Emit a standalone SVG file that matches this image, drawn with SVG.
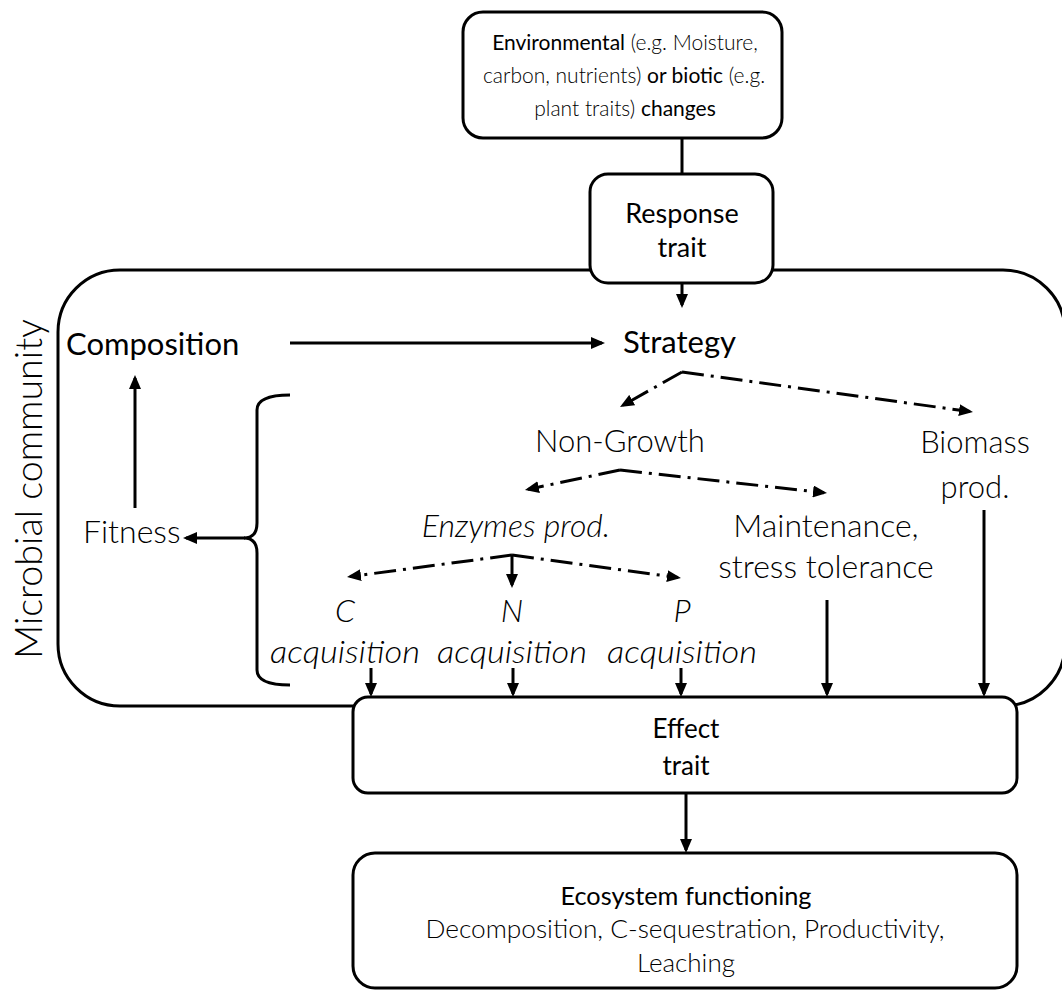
<svg xmlns="http://www.w3.org/2000/svg" width="1062" height="1000" viewBox="0 0 1062 1000">
  <style>
    text { font-family: "Lato", "Open Sans", "Liberation Sans", sans-serif; fill: #000; }
    .lt { font-weight: 300; }
    .rg { font-weight: 400; }
    .it { font-weight: 300; font-style: italic; }
    .box { fill: #fff; stroke: #000; stroke-width: 3; }
    .frame { fill: none; stroke: #000; stroke-width: 3; }
    .ln { fill: none; stroke: #000; stroke-width: 3; }
    .dd { fill: none; stroke: #000; stroke-width: 3; stroke-dasharray: 22 7 3 7; }
  </style>
  <defs>
    <marker id="ah" viewBox="0 0 14 12" refX="11" refY="6" markerWidth="14" markerHeight="12" markerUnits="userSpaceOnUse" orient="auto">
      <path d="M0,0 L14,6 L0,12 z" fill="#000"/>
    </marker>
  </defs>

  <!-- Microbial community frame -->
  <g id="microbial-community">
    <rect class="frame" x="58" y="270" width="1007" height="436" rx="62" ry="62"/>
    <text class="lt" font-size="38" text-anchor="middle" transform="translate(42,489) rotate(-90)" textLength="340" lengthAdjust="spacingAndGlyphs">Microbial community</text>
  </g>

  <g id="env-changes">
    <rect class="box" x="463" y="12" width="319" height="126" rx="20" ry="20"/>
    <text font-size="21" text-anchor="middle" x="625" y="50"><tspan class="rg">Environmental</tspan><tspan class="lt"> (e.g. Moisture,</tspan></text>
    <text font-size="21" text-anchor="middle" x="624" y="83"><tspan class="lt">carbon, nutrients) </tspan><tspan class="rg">or biotic</tspan><tspan class="lt"> (e.g.</tspan></text>
    <text font-size="21" text-anchor="middle" x="625" y="116"><tspan class="lt">plant traits) </tspan><tspan class="rg">changes</tspan></text>
  </g>

  <g id="connectors">
    <line class="ln" x1="682" y1="138" x2="682" y2="174"/>
    <line class="ln" x1="682" y1="283" x2="682" y2="305" marker-end="url(#ah)"/>
    <line class="ln" x1="290" y1="343" x2="602" y2="343" marker-end="url(#ah)"/>
    <line class="ln" x1="135" y1="508" x2="135" y2="378" marker-end="url(#ah)"/>
    <line class="ln" x1="245" y1="538" x2="186" y2="538" marker-end="url(#ah)"/>
    <path class="ln" d="M290,395 Q257,395 257,410 L257,523 Q257,538 244,538 Q257,538 257,553 L257,670 Q257,685 290,685"/>
    <path class="dd" d="M682,372 L622.6,405.5" marker-end="url(#ah)"/>
    <path class="dd" d="M682,372 L970,411.6" marker-end="url(#ah)"/>
    <path class="dd" d="M620,470 L527.9,489.4" marker-end="url(#ah)"/>
    <path class="dd" d="M620,470 L824,492.7" marker-end="url(#ah)"/>
    <path class="dd" d="M512,555 L350,576.6" marker-end="url(#ah)"/>
    <path class="dd" d="M512,555 L678,577.6" marker-end="url(#ah)"/>
    <line class="ln" x1="512" y1="555" x2="512" y2="585" marker-end="url(#ah)"/>
    <line class="ln" x1="371" y1="668" x2="371" y2="694" marker-end="url(#ah)"/>
    <line class="ln" x1="513" y1="668" x2="513" y2="694" marker-end="url(#ah)"/>
    <line class="ln" x1="681" y1="668" x2="681" y2="694" marker-end="url(#ah)"/>
    <line class="ln" x1="827" y1="600" x2="827" y2="694" marker-end="url(#ah)"/>
    <line class="ln" x1="984" y1="510" x2="984" y2="694" marker-end="url(#ah)"/>
    <line class="ln" x1="686" y1="793" x2="686" y2="850" marker-end="url(#ah)"/>
  </g>

  <g id="response-trait">
    <rect class="box" x="590" y="174" width="183" height="109" rx="18" ry="18"/>
    <text class="rg" font-size="27" text-anchor="middle" x="682" y="223">Response</text>
    <text class="rg" font-size="27" text-anchor="middle" x="682" y="257">trait</text>
  </g>

  <g id="composition">
    <text class="rg" font-size="31" x="66" y="355">Composition</text>
  </g>
  <g id="strategy">
    <text class="rg" font-size="31" x="623" y="353">Strategy</text>
  </g>
  <g id="fitness">
    <text class="lt" font-size="32" x="83" y="543">Fitness</text>
  </g>
  <g id="non-growth">
    <text class="lt" font-size="31" text-anchor="middle" x="620" y="452">Non-Growth</text>
  </g>
  <g id="biomass">
    <text class="lt" font-size="31" text-anchor="middle" x="975" y="453">Biomass</text>
    <text class="lt" font-size="31" text-anchor="middle" x="975" y="498">prod.</text>
  </g>
  <g id="enzymes">
    <text class="it" font-size="32" text-anchor="middle" x="516" y="537">Enzymes prod.</text>
  </g>
  <g id="maintenance">
    <text class="lt" font-size="32" text-anchor="middle" x="826" y="537">Maintenance,</text>
    <text class="lt" font-size="32" text-anchor="middle" x="826" y="578">stress tolerance</text>
  </g>
  <g id="c-acq">
    <text class="it" font-size="32" text-anchor="middle" x="345" y="622">C</text>
    <text class="it" font-size="32" text-anchor="middle" x="345" y="663" textLength="150" lengthAdjust="spacingAndGlyphs">acquisition</text>
  </g>
  <g id="n-acq">
    <text class="it" font-size="32" text-anchor="middle" x="512" y="622">N</text>
    <text class="it" font-size="32" text-anchor="middle" x="512" y="663" textLength="150" lengthAdjust="spacingAndGlyphs">acquisition</text>
  </g>
  <g id="p-acq">
    <text class="it" font-size="32" text-anchor="middle" x="682" y="622">P</text>
    <text class="it" font-size="32" text-anchor="middle" x="682" y="663" textLength="150" lengthAdjust="spacingAndGlyphs">acquisition</text>
  </g>

  <g id="effect-trait">
    <rect class="box" x="353" y="697" width="664" height="96" rx="15" ry="15"/>
    <text class="rg" font-size="26" text-anchor="middle" x="686" y="738">Effect</text>
    <text class="rg" font-size="26" text-anchor="middle" x="686" y="775">trait</text>
  </g>

  <g id="ecosystem-functioning">
    <rect class="box" x="353" y="853" width="664" height="135" rx="22" ry="22"/>
    <text class="rg" font-size="25" text-anchor="middle" x="686" y="905" textLength="251" lengthAdjust="spacingAndGlyphs">Ecosystem functioning</text>
    <text class="lt" font-size="26" text-anchor="middle" x="685" y="938" textLength="519" lengthAdjust="spacingAndGlyphs">Decomposition, C-sequestration, Productivity,</text>
    <text class="lt" font-size="26" text-anchor="middle" x="686" y="972">Leaching</text>
  </g>
</svg>
